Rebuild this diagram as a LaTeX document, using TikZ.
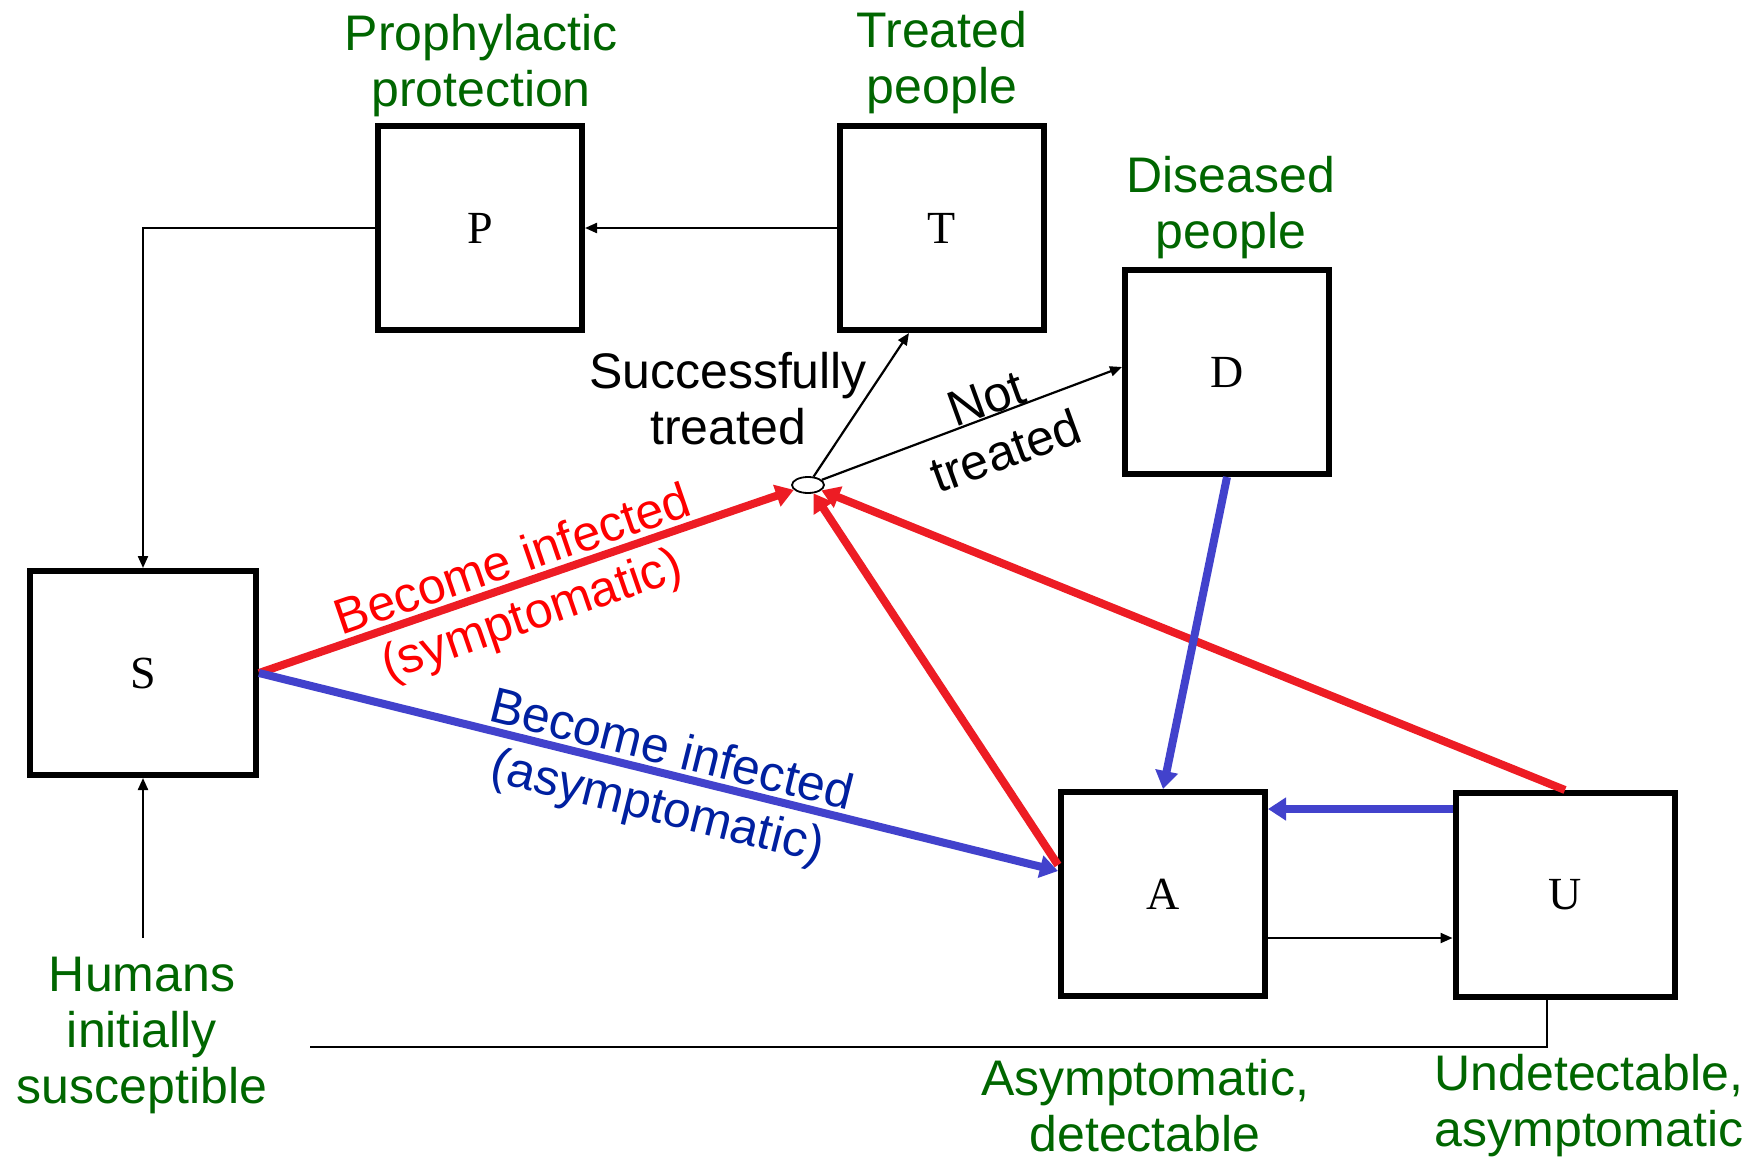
\documentclass[tikz,border=0pt]{standalone}
\usepackage{fontspec}
\setmainfont{Liberation Sans}
\newfontfamily\boxfont{Liberation Serif}
\usetikzlibrary{arrows.meta,shapes.geometric}
\definecolor{lblgreen}{RGB}{0,102,0}
\definecolor{arrred}{RGB}{237,28,36}
\definecolor{txtred}{RGB}{255,0,0}
\definecolor{arrblue}{RGB}{66,66,204}
\definecolor{txtblue}{RGB}{0,32,160}
\tikzset{
  cbox/.style={draw, line width=6pt, inner sep=0pt, minimum width=204pt, minimum height=204pt, font=\boxfont\fontsize{46}{50}\selectfont},
  lbl/.style={align=center, font=\fontsize{50}{56}\selectfont, inner sep=0pt},
  rlbl/.style={align=center, font=\fontsize{50}{58}\selectfont, inner sep=0pt},
  glbl/.style={lbl, text=lblgreen},
  thin/.style={line width=2.2pt, -{Triangle[length=12pt,width=10pt]}},
  thinline/.style={line width=2.2pt},
  redarr/.style={line width=8pt, arrred, -{Triangle[length=18pt,width=22pt]}},
  bluearr/.style={line width=8pt, arrblue, -{Triangle[length=18pt,width=22pt]}},
}
\begin{document}
\begin{tikzpicture}[x=1pt,y=-1pt]
\useasboundingbox (0,0) rectangle (1755,1159);
\fill[white] (0,0) rectangle (1755,1159);
% boxes
\node[cbox] (P) at (480,228) {P};
\node[cbox] (T) at (942,228) {T};
\node[cbox] (D) at (1227,372) {D};
\node[cbox, minimum width=226pt] (S) at (143,673) {S};
\node[cbox] (A) at (1163,894) {A};
\node[cbox, minimum width=219pt] (U) at (1565,895) {U};
\node[ellipse, draw, line width=1.8pt, fill=white, minimum width=32pt, minimum height=16pt, inner sep=0pt] (E) at (808,485) {};
% coordinates
\coordinate (hum) at (143,938);
\coordinate (bot) at (310,1047);
% thin connectors
\draw[thin] (T.west) -- (P.east);
\draw[thin] (P.west) -| (S.north);
\draw[thin] (hum) -- (S.south);
\draw[thinline] ([xshift=-18pt]U.south) |- (bot);
\draw[thin] ([yshift=-44pt]A.east) -- ([yshift=-44pt]A.east -| U.west);
\draw[thin] (E) -- ([xshift=-33pt]T.south);
\draw[thin] (E) -- ([yshift=5pt]D.west);
% red arrows
\draw[redarr] (S.east) -- (E);
\draw[redarr] ([yshift=29pt]A.west) -- (E);
\draw[redarr] (U.north) -- (E);
% blue arrows
\draw[bluearr] (S.east) -- ([yshift=23pt]A.west);
\draw[bluearr] (D.south) -- (A.north);
\draw[bluearr] ([yshift=86pt]U.west) -- ([yshift=86pt]U.west -| A.east);
% labels
\node[glbl] (lP) at (481,66) {Prophylactic\\protection};
\node[glbl] (lT) at (942,63) {Treated\\people};
\node[glbl] (lD) at (1231,208) {Diseased\\people};
\node[glbl] (lH) at (142,1035) {Humans\\initially\\susceptible};
\node[glbl] (lA) at (1145,1106) {Asymptomatic,\\detectable};
\node[glbl] (lU) at (1589,1106) {Undetectable,\\asymptomatic};
\node[lbl] (lST) at (728,399) {Successfully\\treated};
\node[lbl, rotate=20] (lNT) at (996,425) {Not\\treated};
\node[rlbl, text=txtred, rotate=19] (lSy) at (523,590) {Become infected\\(symptomatic)};
\node[rlbl, text=txtblue, rotate=-14] (lAs) at (664,781) {Become infected\\(asymptomatic)};
\end{tikzpicture}
\end{document}
